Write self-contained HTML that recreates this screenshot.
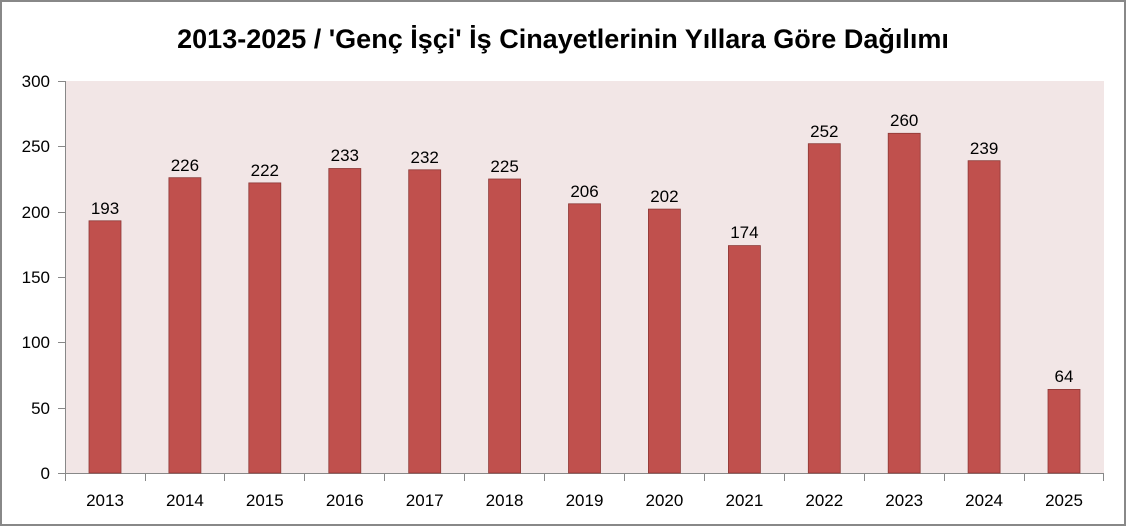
<!DOCTYPE html>
<html><head><meta charset="utf-8"><style>
html,body{margin:0;padding:0;background:#fff}
svg{display:block}
text{font-family:"Liberation Sans",sans-serif}
</style></head><body>
<svg width="1127" height="527" xmlns="http://www.w3.org/2000/svg">
<rect x="1" y="1" width="1124" height="524" fill="#fff" stroke="#888" stroke-width="2"/>
<text x="563" y="48" text-anchor="middle" font-size="27" font-weight="bold" fill="#000">2013-2025 / 'Genç İşçi' İş Cinayetlerinin Yıllara Göre Dağılımı</text>
<rect x="65" y="81" width="1039" height="392" fill="#f2e6e6"/>
<g stroke="#888" stroke-width="1">
<line x1="65.5" y1="81" x2="65.5" y2="481"/>
<line x1="58" y1="473.5" x2="1104" y2="473.5"/>
<line x1="58" y1="81.5" x2="65" y2="81.5"/>
<line x1="58" y1="146.5" x2="65" y2="146.5"/>
<line x1="58" y1="212.5" x2="65" y2="212.5"/>
<line x1="58" y1="277.5" x2="65" y2="277.5"/>
<line x1="58" y1="342.5" x2="65" y2="342.5"/>
<line x1="58" y1="408.5" x2="65" y2="408.5"/>
<line x1="145.5" y1="473" x2="145.5" y2="481"/>
<line x1="224.5" y1="473" x2="224.5" y2="481"/>
<line x1="304.5" y1="473" x2="304.5" y2="481"/>
<line x1="384.5" y1="473" x2="384.5" y2="481"/>
<line x1="464.5" y1="473" x2="464.5" y2="481"/>
<line x1="544.5" y1="473" x2="544.5" y2="481"/>
<line x1="624.5" y1="473" x2="624.5" y2="481"/>
<line x1="704.5" y1="473" x2="704.5" y2="481"/>
<line x1="784.5" y1="473" x2="784.5" y2="481"/>
<line x1="864.5" y1="473" x2="864.5" y2="481"/>
<line x1="944.5" y1="473" x2="944.5" y2="481"/>
<line x1="1024.5" y1="473" x2="1024.5" y2="481"/>
<line x1="1103.5" y1="473" x2="1103.5" y2="481"/>
</g>
<g font-size="17" text-anchor="end" fill="#000">
<text x="50" y="87">300</text><text x="50" y="152">250</text><text x="50" y="218">200</text>
<text x="50" y="283">150</text><text x="50" y="348">100</text><text x="50" y="414">50</text><text x="50" y="479">0</text>
</g>
<g fill="#c0504d" stroke="#8c3836" stroke-width="0.8">
<rect x="89" y="220.8" width="32" height="252.2"/>
<rect x="168.9" y="177.7" width="32" height="295.3"/>
<rect x="248.8" y="182.9" width="32" height="290.1"/>
<rect x="328.8" y="168.5" width="32" height="304.5"/>
<rect x="408.7" y="169.8" width="32" height="303.2"/>
<rect x="488.6" y="179" width="32" height="294"/>
<rect x="568.5" y="203.8" width="32" height="269.2"/>
<rect x="648.4" y="209.1" width="32" height="263.9"/>
<rect x="728.4" y="245.6" width="32" height="227.4"/>
<rect x="808.3" y="143.7" width="32" height="329.3"/>
<rect x="888.2" y="133.3" width="32" height="339.7"/>
<rect x="968.1" y="160.7" width="32" height="312.3"/>
<rect x="1048" y="389.4" width="32" height="83.6"/>
</g>
<g font-size="17" text-anchor="middle" fill="#000">
<text x="105" y="214">193</text>
<text x="184.9" y="171">226</text>
<text x="264.8" y="176">222</text>
<text x="344.8" y="161">233</text>
<text x="424.7" y="163">232</text>
<text x="504.6" y="172">225</text>
<text x="584.5" y="197">206</text>
<text x="664.4" y="202">202</text>
<text x="744.4" y="238">174</text>
<text x="824.3" y="137">252</text>
<text x="904.2" y="126">260</text>
<text x="984.1" y="154">239</text>
<text x="1064" y="382">64</text>
</g>
<g font-size="17" text-anchor="middle" fill="#000">
<text x="105" y="506">2013</text>
<text x="184.9" y="506">2014</text>
<text x="264.8" y="506">2015</text>
<text x="344.8" y="506">2016</text>
<text x="424.7" y="506">2017</text>
<text x="504.6" y="506">2018</text>
<text x="584.5" y="506">2019</text>
<text x="664.4" y="506">2020</text>
<text x="744.4" y="506">2021</text>
<text x="824.3" y="506">2022</text>
<text x="904.2" y="506">2023</text>
<text x="984.1" y="506">2024</text>
<text x="1064" y="506">2025</text>
</g>
</svg>
</body></html>
